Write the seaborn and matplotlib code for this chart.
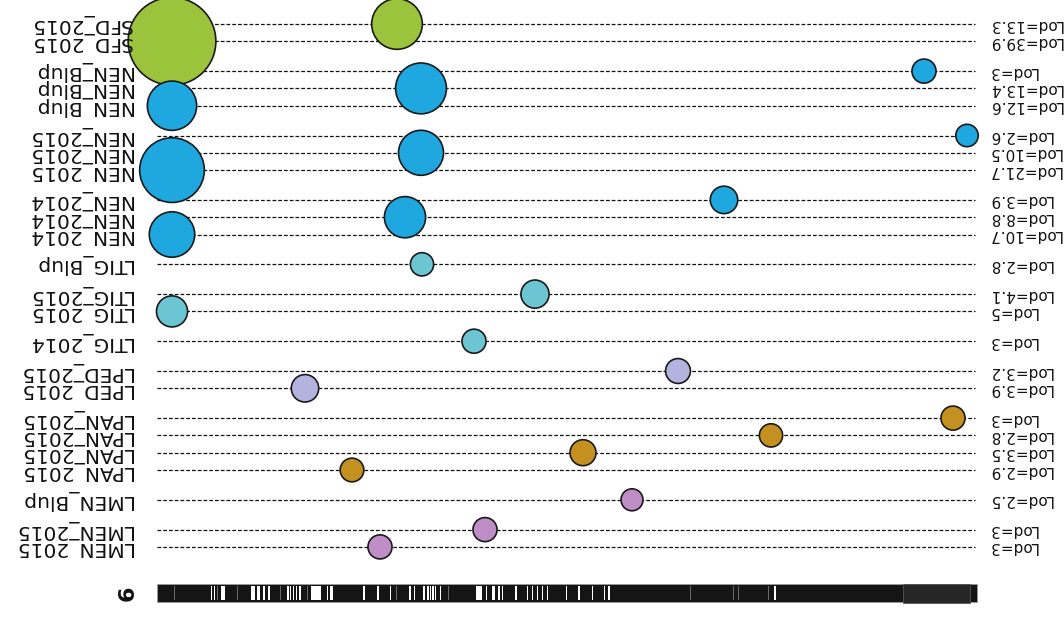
import numpy as np
import pandas as pd
import seaborn as sns
import matplotlib.pyplot as plt

# QTL peaks on chromosome 6 (positions in Mb-like units along the bar)
traits = ["SFD_2015", "SFD_2015",
          "NEN_Blup", "NEN_Blup", "NEN_Blup",
          "NEN_2015", "NEN_2015", "NEN_2015",
          "NEN_2014", "NEN_2014", "NEN_2014",
          "LTIG_Blup",
          "LTIG_2015", "LTIG_2015",
          "LTIG_2014",
          "LPED_2015", "LPED_2015",
          "LPAN_2015", "LPAN_2015", "LPAN_2015", "LPAN_2015",
          "LMEN_Blup",
          "LMEN_2015", "LMEN_2015"]
lods = [13.3, 39.9,
        3, 13.4, 12.6,
        2.6, 10.5, 21.7,
        3.9, 8.8, 10.7,
        2.8,
        4.1, 5,
        3,
        3.2, 3.9,
        3, 2.8, 3.5, 2.9,
        2.5,
        3, 3]
positions = [24.0, 1.5,
             76.7, 26.4, 1.5,
             81.0, 26.4, 1.5,
             56.7, 24.8, 1.5,
             26.5,
             37.8, 1.5,
             31.7,
             52.1, 14.8,
             79.6, 61.4, 42.6, 19.5,
             47.5,
             32.8, 22.3]

trait_colors = {"SFD": "#9bc33b", "NEN": "#1fa8e0", "LTIG": "#6cc5d3",
                "LPED": "#b2b4df", "LPAN": "#c49120", "LMEN": "#bf8ec6"}

chrom_name = "6"
chrom_len = 82.0
marker_thin = [5.37, 5.70, 13.03, 13.30, 13.57, 13.87, 14.23, 16.97, 20.63, 22.03,
               23.30, 25.23, 25.70, 26.63, 27.03, 27.30, 27.53, 27.80, 28.30, 32.90,
               34.13, 36.97, 37.47, 37.97, 38.47, 38.97, 40.90, 42.13, 43.47, 44.70,
               45.13, 61.73]
marker_blocks = [(6.37, 6.80), (9.40, 9.83), (10.03, 10.30), (10.63, 10.80),
                 (11.13, 11.30), (15.37, 16.37), (17.30, 17.57), (31.90, 32.47),
                 (33.47, 33.80), (34.47, 34.63), (35.80, 36.03)]
marker_faint = [1.70, 5.97, 8.00, 12.30, 14.97, 23.90, 29.07, 53.30, 57.57, 58.13, 61.13]

# row layout: small step inside a trait, larger gap between traits
ys = []
y = 24.0
prev = None
for t in traits:
    if prev is not None:
        y += 17.3 if t == prev else 29.8
    ys.append(y)
    prev = t

df = pd.DataFrame({"trait": traits, "lod": lods, "pos": positions, "y": ys})
df["group"] = df["trait"].str.split("_").str[0]

plt.rcParams["font.family"] = ["DejaVu Sans"]
fig = plt.figure(figsize=(10.64, 6.19), dpi=100)
ax = fig.add_axes([0, 0, 1, 1])

ax.hlines(df["y"], 0, 81.8, colors="#111111", linewidth=0.9,
          linestyles=(0, (3, 1.6)), zorder=1)

k = 100
sns.scatterplot(data=df, x="pos", y="y", hue="group", palette=trait_colors,
                size="lod", sizes=(k * df["lod"].min(), k * df["lod"].max()),
                size_norm=(df["lod"].min(), df["lod"].max()),
                edgecolor="#1a1a1a", linewidth=1.2, legend=False, ax=ax, zorder=3)

for _, r in df.iterrows():
    ax.text(-2.5, r["y"], r["trait"], rotation=180, ha="right", va="center",
            fontsize=14.5, color="#111111")
    ax.text(83.1, r["y"], "Lod=%g" % r["lod"], rotation=180, ha="left",
            va="center", fontsize=11, color="#111111")

# chromosome bar
ax.broken_barh([(0, chrom_len)], (583.5, 18), facecolors="#151515",
               edgecolor="#9a9a9a", linewidth=0.6, zorder=2)
ax.broken_barh([(74.6, 6.7)], (583.5, 19), facecolors="#262626",
               edgecolor="#555555", linewidth=0.6, zorder=2)
ax.broken_barh([(m, 0.13) for m in marker_thin], (585.5, 14),
               facecolors="white", zorder=3)
ax.broken_barh([(a, b - a) for a, b in marker_blocks], (585.5, 14),
               facecolors="white", zorder=3)
ax.broken_barh([(m, 0.1) for m in marker_faint], (585.5, 14),
               facecolors="#6a6a6a", zorder=3)
ax.text(-2.9, 593, chrom_name, rotation=90, ha="center", va="center",
        fontsize=16, fontweight="bold", color="#111111")

ax.set_xlim(-15.7, 90.7)
ax.set_ylim(619, 0)
ax.axis("off")

fig.savefig("out.png", dpi=100)
